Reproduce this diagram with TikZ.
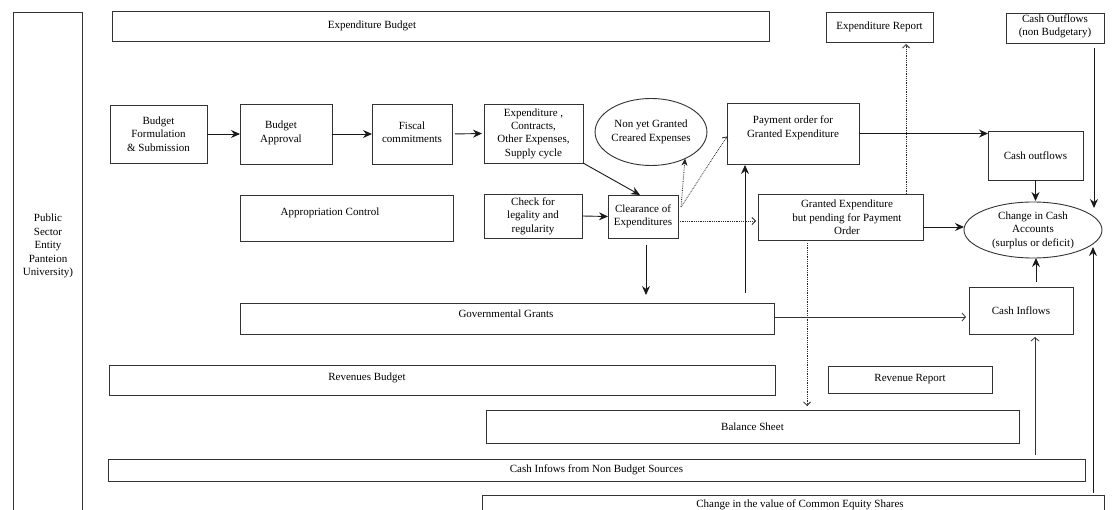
\documentclass[tikz,border=0pt]{standalone}
\usepackage{fontspec}
\setmainfont{Liberation Serif}
\usetikzlibrary{arrows.meta,shapes.geometric}
\tikzset{
  fnt/.style={font=\fontsize{11}{13.4}\selectfont},
  box/.style={draw=black!80, line width=0.9pt, rectangle, inner sep=0pt, outer sep=0pt, align=center, fnt},
  oval/.style={draw=black!80, line width=0.9pt, ellipse, inner sep=0pt, outer sep=0pt, align=center, fnt},
  txt/.style={inner sep=0pt, outer sep=0pt, align=center, fnt},
  arr/.style={draw=black!90, line width=0.9pt, -{Stealth[length=9pt,width=8pt,inset=3pt]}},
  oarr/.style={draw=black!80, line width=0.8pt, -{Straight Barb[length=3.5pt,width=8pt]}},
  darr/.style={draw=black!85, line width=0.8pt, densely dotted},
  dtip/.style={-{Straight Barb[length=3.5pt,width=7pt]}},
  dftip/.style={-{Stealth[length=7pt,width=6pt,inset=2pt]}}
}
\begin{document}
\begin{tikzpicture}[x=1pt,y=-1pt]
\useasboundingbox (0,0) rectangle (1112,510);
\clip (0,0) rectangle (1112,510);

% entity column
\node[box, minimum width=69pt, minimum height=518pt] (entity) at (47.5,271) {};
\node[txt] (entityt) at (48,246) {Public\\Sector\\Entity\\Panteion\\University)};

% top row
\node[box, minimum width=657pt, minimum height=30pt] (expbud) at (440.5,26) {};
\node[txt] (expbudt) at (372,26) {Expenditure Budget};
\node[box, minimum width=107pt, minimum height=30pt] (exprep) at (879.5,27) {Expenditure Report};
\node[box, minimum width=98pt, minimum height=30pt] (cono) at (1055,28) {};
\node[txt] (conot) at (1055,26.5) {Cash Outflows\\(non Budgetary)};

% process row
\node[box, minimum width=97pt, minimum height=58pt] (bform) at (158.5,134) {Budget\\Formulation\\\&{} Submission};
\node[box, minimum width=92pt, minimum height=60pt] (bappr) at (286,134) {};
\node[txt] (bapprt) at (281,133) {Budget\\Approval};
\node[box, minimum width=80pt, minimum height=60pt] (fisc) at (412,134) {};
\node[txt] (fisct) at (412,132) {Fiscal\\commitments};
\node[box, minimum width=99pt, minimum height=59pt] (expc) at (533.5,133.5) {Expenditure ,\\Contracts,\\Other Expenses,\\Supply cycle};
\node[oval, minimum width=99pt, minimum height=67pt] (nyg) at (651,132) {Non yet Granted\\Creared Expenses};
\node[box, minimum width=132pt, minimum height=61pt] (payo) at (793,133.5) {};
\node[txt] (payot) at (793,128) {Payment order for\\Granted Expenditure};
\node[box, minimum width=95pt, minimum height=49pt] (couts) at (1035.5,155.5) {Cash outflows};

% control row
\node[box, minimum width=213pt, minimum height=46pt] (approp) at (346.5,218) {};
\node[txt] (appropt) at (330,213) {Appropriation Control};
\node[box, minimum width=98pt, minimum height=44pt] (chk) at (533,216) {Check for\\legality and\\regularity};
\node[box, minimum width=70pt, minimum height=43pt] (clr) at (643,216.5) {Clearance of\\Expenditures};
\node[box, minimum width=165pt, minimum height=46pt] (gpend) at (840.5,217) {};
\node[txt] (gpendt) at (847,217.5) {Granted Expenditure\\but pending for Payment\\Order};
\node[oval, minimum width=138pt, minimum height=56pt] (cca) at (1033,230) {Change in Cash\\Accounts\\(surplus or deficit)};

% lower rows
\node[box, minimum width=534pt, minimum height=31pt] (govg) at (507,318.5) {};
\node[txt] (govgt) at (506,314) {Governmental Grants};
\node[box, minimum width=104pt, minimum height=47pt] (cinf) at (1021,310.5) {Cash Inflows};
\node[box, minimum width=666pt, minimum height=30pt] (revb) at (442,380) {};
\node[txt] (revbt) at (367,378) {Revenues Budget};
\node[box, minimum width=164pt, minimum height=27pt] (revrep) at (910,379.5) {Revenue Report};
\node[box, minimum width=533pt, minimum height=33pt] (bsheet) at (752.5,426.5) {Balance Sheet};
\node[box, minimum width=977pt, minimum height=22pt] (cinb) at (596.5,470) {Cash Infows from Non Budget Sources};
\node[box, minimum width=622pt, minimum height=35pt] (ceq) at (793,512.5) {};
\node[txt] (ceqt) at (800,505) {Change in the value of Common Equity Shares};

% coordinates for free ends
\coordinate (clrd) at (681,207);
\coordinate (clrE) at (678,221);
\coordinate (gv) at (745,303);
\coordinate (gpn) at (906,194);
\coordinate (gpe) at (923,227);
\coordinate (cnb) at (1094,43);
\coordinate (cnbend) at (1094,208);
\coordinate (gps) at (807,240);
\coordinate (gve) at (774,317);
\coordinate (cin) at (1036,287);
\coordinate (cnbt) at (1035,459);
\coordinate (ceqtop) at (1093,495);
\coordinate (ceqend) at (1093,247);

% connectors
\draw[arr] (bform.east) -- (bappr.west);
\draw[arr] (bappr.east) -- (fisc.west);
\draw[arr, shorten <=3pt, shorten >=2pt] (fisc.east) -- (expc.west);
\draw[arr] (expc.south east) -- ([xshift=-3pt]clr.north);
\draw[arr] (chk.east) -- (clr.west);
\draw[darr, dftip] (clrd) -- (nyg.-38);
\draw[darr, dtip] (clrd) -- ([yshift=-3pt]payo.west);
\draw[darr, dtip, shorten >=2pt] (clrE) -- (clrE -| gpend.west);
\draw[arr, shorten <=7pt, shorten >=8pt] ([xshift=3pt]clr.south) -- ([xshift=3pt]clr.south |- govg.north);
\draw[arr, shorten <=10pt, shorten >=1pt] (gv) -- (gv |- payo.south);
\draw[arr] (payo.east) -- (payo.east -| couts.west);
\draw[darr, dtip, shorten >=2pt] (gpn) -- (gpn |- exprep.south);
\draw[arr] (gpe) -- (cca.west |- gpe);
\draw[arr, shorten >=1pt] (couts.south) -- (couts.south |- cca.north);
\draw[arr, shorten <=5pt] (cnb) -- (cnbend);
\draw[darr, dtip, shorten <=3pt, shorten >=4pt] (gps) -- (gps |- bsheet.north);
\draw[oarr, shorten >=3pt] (gve) -- (gve -| cinf.west);
\draw[arr, shorten <=5pt] (cin) -- (cin |- cca.south);
\draw[oarr, shorten <=4pt, shorten >=3pt] (cnbt) -- (cnbt |- cinf.south);
\draw[arr, shorten <=2pt] (ceqtop) -- (ceqend);
\end{tikzpicture}
\end{document}
